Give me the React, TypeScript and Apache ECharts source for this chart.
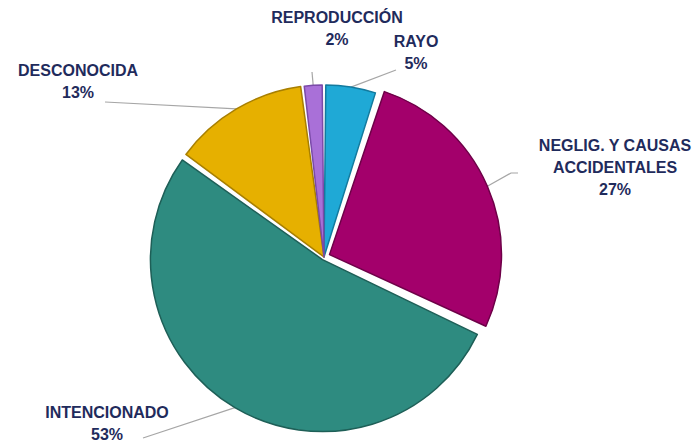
import React, { useEffect, useRef } from "react";
import * as echarts from "echarts";

const categories = [
  "RAYO",
  "NEGLIG. Y CAUSAS\nACCIDENTALES",
  "INTENCIONADO",
  "DESCONOCIDA",
  "REPRODUCCIÓN",
];
const values = [5, 27, 53, 13, 2];
const colors = ["#1FA9D6", "#A3006B", "#2E8B80", "#E6B000", "#A970D8"];
const edgeColors = ["#137A9E", "#6E0048", "#1E5F57", "#A87F00", "#7A4AA8"];

// per-slice explosion distance (style)
const explode = [0, 6, 3, 0, 0];

// label block centres and leader-line ends (layout only)
const labelSpots: [number, number][] = [
  [416, 52],
  [615, 167],
  [107, 423],
  [78, 81],
  [337, 28],
];
const lineEnds: number[][][] = [
  [[396, 70]],
  [[511, 173], [518, 173]],
  [[143, 438]],
  [[105, 102]],
  [[312, 72]],
];

const CX = 324;
const CY = 257;
const R = 172;

export default function App() {
  const ref = useRef<HTMLDivElement>(null);
  useEffect(() => {
    document.body.style.margin = "0";
    const chart = echarts.init(ref.current!, undefined, { renderer: "svg" });

    const total = values.reduce((a, b) => a + b, 0);

    const labelBase = {
      show: true,
      position: "outside",
      formatter: (p: any) => `${p.name}\n${p.percent}%`,
      color: "#1F2B5C",
      fontFamily: "'Liberation Sans', Arial, sans-serif",
      fontWeight: "bold",
      fontSize: 16,
      lineHeight: 22,
      align: "center",
      overflow: "none",
    };
    const layout = (params: any) => {
      const i = params.dataIndex;
      const p = labelSpots[i];
      const start = params.labelLinePoints ? params.labelLinePoints[0] : null;
      const out: any = { x: p[0], y: p[1], align: "center", verticalAlign: "middle" };
      if (start) out.labelLinePoints = [start, ...lineEnds[i]];
      return out;
    };
    const makeData = (visible: (i: number) => boolean) =>
      categories.map((name, i) =>
        visible(i)
          ? {
              name,
              value: values[i],
              itemStyle: { color: colors[i], borderColor: edgeColors[i], borderWidth: 1.5 },
            }
          : {
              name,
              value: values[i],
              itemStyle: { color: "rgba(0,0,0,0)", borderWidth: 0 },
              label: { show: false },
              labelLine: { show: false },
            }
      );
    const common = {
      type: "pie",
      radius: R,
      startAngle: 90,
      clockwise: true,
      padAngle: 1.2,
      label: labelBase,
      labelLine: { show: true, lineStyle: { color: "#A6A6A6", width: 1.2 } },
      labelLayout: layout,
      emphasis: { disabled: true },
      silent: true,
    };

    const series: any[] = [
      { ...common, center: [CX, CY], data: makeData((i) => explode[i] === 0) },
    ];
    let before = 0;
    values.forEach((v, idx) => {
      if (explode[idx] > 0) {
        const midAng = ((before + v / 2) / total) * 2 * Math.PI;
        const ex = explode[idx] * Math.sin(midAng);
        const ey = -explode[idx] * Math.cos(midAng);
        series.push({ ...common, center: [CX + ex, CY + ey], data: makeData((i) => i === idx) });
      }
      before += v;
    });

    chart.setOption({
      animation: false,
      backgroundColor: "#ffffff",
      series,
    });
    return () => chart.dispose();
  }, []);
  return <div ref={ref} style={{ width: 698, height: 443 }} />;
}
